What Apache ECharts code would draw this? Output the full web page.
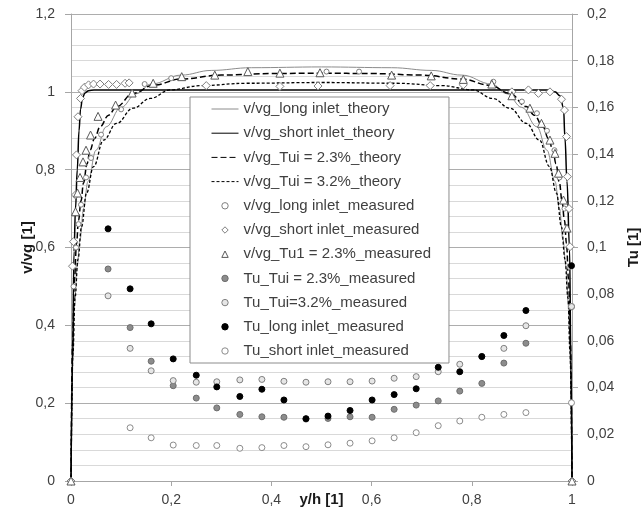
<!DOCTYPE html>
<html>
<head>
<meta charset="utf-8">
<script src="https://cdn.jsdelivr.net/npm/echarts@6/dist/echarts.min.js"></script>
<style>
  html, body { margin: 0; padding: 0; background: #fff; }
  #chart { width: 643px; height: 510px; }
</style>
</head>
<body>
<div id="chart"></div>
<script>
// theory curves, [y/h, v/vg]
var longTheory = [[0, 0], [0.003, 0.3], [0.007, 0.45], [0.012, 0.55], [0.018, 0.62], [0.025, 0.7], [0.034, 0.77],
	[0.05, 0.85], [0.07, 0.91], [0.1, 0.96], [0.13, 0.995], [0.16, 1.02], [0.22, 1.043], [0.28, 1.055], [0.36, 1.062],
	[0.5, 1.064], [0.64, 1.062], [0.72, 1.055], [0.78, 1.043], [0.84, 1.02], [0.87, 0.995], [0.9, 0.96], [0.93, 0.91],
	[0.95, 0.85], [0.966, 0.77], [0.975, 0.7], [0.982, 0.62], [0.988, 0.55], [0.993, 0.45], [0.997, 0.3], [1, 0]];
var shortTheory = [[0, 0], [0.003, 0.3], [0.006, 0.59], [0.009, 0.7], [0.0125, 0.8], [0.016, 0.9], [0.019, 0.955],
	[0.023, 0.985], [0.028, 0.997], [0.035, 1.003], [0.046, 1.005], [0.5, 1.005], [0.955, 1.005], [0.966, 1.0],
	[0.976, 0.99], [0.983, 0.96], [0.986, 0.88], [0.99, 0.77], [0.995, 0.6], [0.998, 0.3], [1, 0]];
var tui23Theory = [[0, 0], [0.003, 0.35], [0.007, 0.52], [0.011, 0.61], [0.015, 0.67], [0.02, 0.72], [0.025, 0.766],
	[0.032, 0.815], [0.038, 0.85], [0.047, 0.88], [0.058, 0.91], [0.075, 0.94], [0.091, 0.962], [0.124, 0.996],
	[0.164, 1.017], [0.22, 1.033], [0.3, 1.043], [0.4, 1.047], [0.5, 1.048], [0.6, 1.047], [0.7, 1.043], [0.78, 1.033],
	[0.836, 1.017], [0.876, 0.996], [0.909, 0.962], [0.925, 0.94], [0.942, 0.91], [0.953, 0.88], [0.962, 0.85],
	[0.968, 0.815], [0.975, 0.766], [0.98, 0.72], [0.985, 0.67], [0.989, 0.61], [0.993, 0.52], [0.997, 0.35], [1, 0]];
var tui32Theory = [[0, 0], [0.004, 0.33], [0.008, 0.47], [0.014, 0.57], [0.021, 0.653], [0.031, 0.74], [0.045, 0.808],
	[0.065, 0.876], [0.091, 0.919], [0.124, 0.958], [0.158, 0.983], [0.198, 1.005], [0.26, 1.016], [0.35, 1.022],
	[0.5, 1.024], [0.65, 1.022], [0.74, 1.016], [0.802, 1.005], [0.842, 0.983], [0.876, 0.958], [0.909, 0.919],
	[0.935, 0.876], [0.955, 0.808], [0.969, 0.74], [0.979, 0.653], [0.986, 0.57], [0.992, 0.47], [0.996, 0.33], [1, 0]];

// measured velocity, [y/h, v/vg]
var vLongMeas = [[0, 0], [0.005, 0.5], [0.01, 0.6], [0.015, 0.66], [0.02, 0.71], [0.03, 0.78], [0.04, 0.83], [0.06, 0.89],
	[0.1, 0.955], [0.147, 1.02], [0.2, 1.035], [0.51, 1.052], [0.575, 1.052], [0.843, 1.026], [0.9, 0.975], [0.93, 0.945],
	[0.95, 0.9], [0.965, 0.85], [0.975, 0.78], [0.985, 0.7], [0.995, 0.55], [1, 0]];
var vShortMeas = [[0, 0], [0.003, 0.552], [0.005, 0.615], [0.009, 0.735], [0.011, 0.838], [0.014, 0.936], [0.019, 0.983],
	[0.022, 1.003], [0.027, 1.012], [0.035, 1.018], [0.045, 1.02], [0.058, 1.02], [0.075, 1.019], [0.091, 1.019],
	[0.108, 1.022], [0.116, 1.023], [0.27, 1.016], [0.417, 1.014], [0.493, 1.015], [0.637, 1.016], [0.717, 1.016],
	[0.783, 1.018], [0.88, 1.0], [0.913, 1.005], [0.933, 0.996], [0.956, 1.0], [0.979, 0.981], [0.985, 0.953],
	[0.989, 0.885], [0.991, 0.782], [0.994, 0.7], [0.996, 0.602], [1, 0]];
var vTu23Meas = [[0, 0], [0.009, 0.692], [0.013, 0.74], [0.018, 0.78], [0.024, 0.82], [0.03, 0.85], [0.039, 0.889],
	[0.054, 0.937], [0.089, 0.966], [0.122, 0.997], [0.164, 1.022], [0.221, 1.039], [0.287, 1.043], [0.353, 1.052],
	[0.417, 1.048], [0.497, 1.049], [0.64, 1.043], [0.719, 1.041], [0.783, 1.032], [0.84, 1.02], [0.88, 0.99],
	[0.916, 0.958], [0.939, 0.919], [0.956, 0.876], [0.966, 0.842], [0.973, 0.791], [0.983, 0.722], [0.99, 0.65], [1, 0]];

// measured turbulence, one value per position in tuPos
var tuPos = [0.074, 0.118, 0.160, 0.204, 0.250, 0.291, 0.337, 0.381, 0.425, 0.469, 0.513,
	0.557, 0.601, 0.645, 0.689, 0.733, 0.776, 0.820, 0.864, 0.908, 0.999];
var tuTui23 = [0.0908, 0.0657, 0.0513, 0.0408, 0.0355, 0.0313, 0.0285, 0.0275, 0.0273, 0.0265, 0.0268,
	0.0275, 0.0273, 0.0307, 0.0325, 0.0343, 0.0385, 0.0418, 0.0505, 0.059, 0.0747];
var tuTui32 = [0.0793, 0.0568, 0.0472, 0.043, 0.0423, 0.0425, 0.0433, 0.0435, 0.0427, 0.0423, 0.0425,
	0.0425, 0.0428, 0.044, 0.0447, 0.0468, 0.05, 0.0533, 0.0568, 0.0665, 0.0747];
var tuLong = [0.108, 0.0823, 0.0673, 0.0523, 0.0453, 0.0403, 0.0362, 0.0393, 0.0347, 0.0267, 0.0278,
	0.0302, 0.0347, 0.037, 0.0395, 0.0487, 0.0468, 0.0533, 0.0623, 0.073, 0.0922];
var tuShort = [null, 0.0228, 0.0185, 0.0154, 0.0152, 0.0152, 0.014, 0.0143, 0.0152, 0.0147, 0.0155,
	0.0162, 0.0172, 0.0185, 0.0207, 0.0237, 0.0257, 0.0273, 0.0285, 0.0293, 0.0335];

function pairs(vals) {
	var out = [];
	for (var i = 0; i < vals.length; i++) {
		if (vals[i] != null) out.push([tuPos[i], vals[i]]);
	}
	return out;
}

function comma(v) {
	return String(Math.round(v * 100) / 100).replace('.', ',');
}

var chart = echarts.init(document.getElementById('chart'), null, { renderer: 'canvas' });

var font = 'Liberation Sans';
var labelStyle = { color: '#404040', fontSize: 14, fontFamily: font };
var nameStyle = { color: '#1a1a1a', fontSize: 15, fontWeight: 'bold', fontFamily: font };

function theory(name, data, color, width, type) {
	return {
		name: name, type: 'line', data: data, symbol: 'none', smooth: 0.4, smoothMonotone: 'x',
		lineStyle: { color: color, width: width, type: type },
		itemStyle: { color: color }, z: 3
	};
}

function measured(name, data, symbol, size, fill, border, yIdx) {
	return {
		name: name, type: 'line', data: data, yAxisIndex: yIdx || 0,
		symbol: symbol, symbolSize: size, showSymbol: true, showAllSymbol: true,
		lineStyle: { width: 0 },
		itemStyle: { color: fill, borderColor: border, borderWidth: 1 }, z: 4
	};
}

var series = [
	theory('v/vg_long inlet_theory', longTheory, '#8c8c8c', 1, 'solid'),
	theory('v/vg_short inlet_theory', shortTheory, '#000', 1.5, 'solid'),
	theory('v/vg_Tui = 2.3%_theory', tui23Theory, '#000', 1.5, [6, 3]),
	theory('v/vg_Tui = 3.2%_theory', tui32Theory, '#000', 1.3, [3, 2]),
	measured('v/vg_long inlet_measured', vLongMeas, 'circle', 5, '#fff', '#7f7f7f'),
	measured('v/vg_short inlet_measured', vShortMeas, 'diamond', 8, '#fff', '#7f7f7f'),
	measured('v/vg_Tu1 = 2.3%_measured', vTu23Meas, 'triangle', 8, '#fff', '#595959'),
	measured('Tu_Tui = 2.3%_measured', pairs(tuTui23), 'circle', 6, '#8c8c8c', '#6e6e6e', 1),
	measured('Tu_Tui=3.2%_measured', pairs(tuTui32), 'circle', 6, '#e6e6e6', '#808080', 1),
	measured('Tu_long inlet_measured', pairs(tuLong), 'circle', 6, '#000', '#000', 1),
	measured('Tu_short inlet_measured', pairs(tuShort), 'circle', 6, '#fff', '#8c8c8c', 1)
];

var legendData = series.map(function (s, i) {
	if (i < 4) return { name: s.name, itemStyle: { opacity: 0 }, lineStyle: { width: 1 } };
	return { name: s.name, lineStyle: { width: 0, opacity: 0 }, itemStyle: { borderWidth: 1 } };
});

var option = {
	animation: false,
	backgroundColor: '#fff',
	grid: { left: 71, right: 71, top: 14, bottom: 29, containLabel: false, outerBoundsMode: 'none' },
	legend: {
		orient: 'vertical', left: 190, top: 97,
		data: legendData,
		itemWidth: 27, itemHeight: 8, itemGap: 8.2,
		padding: [4, 18, 4, 21],
		backgroundColor: '#fff', borderColor: '#8c8c8c', borderWidth: 1,
		selectedMode: false,
		textStyle: { color: '#404040', fontSize: 15, fontFamily: font, lineHeight: 16 }
	},
	xAxis: {
		type: 'value', min: 0, max: 1, interval: 0.2,
		name: 'y/h [1]', nameLocation: 'middle', nameGap: 11, nameMoveOverlap: false, nameTextStyle: nameStyle,
		axisLine: { show: true, onZero: false, lineStyle: { color: '#a6a6a6' } },
		axisTick: { show: true, length: 5, lineStyle: { color: '#a6a6a6' } },
		axisLabel: Object.assign({ margin: 12, formatter: comma }, labelStyle),
		splitLine: { show: false }
	},
	yAxis: [
		{
			type: 'value', min: 0, max: 1.2, interval: 0.2,
			name: 'v/vg [1]', nameLocation: 'middle', nameGap: 36, nameRotate: 90, nameMoveOverlap: false,
			nameTextStyle: nameStyle,
			axisLine: { show: true, onZero: false, lineStyle: { color: '#a6a6a6' } },
			axisTick: { show: true, length: 6, lineStyle: { color: '#a6a6a6' } },
			axisLabel: Object.assign({ margin: 16, formatter: comma }, labelStyle),
			splitLine: { show: true, lineStyle: { color: '#adadad' } },
			minorTick: { show: false, splitNumber: 5 },
			minorSplitLine: { show: true, lineStyle: { color: '#d9d9d9' } }
		},
		{
			type: 'value', min: 0, max: 0.2, interval: 0.02,
			name: 'Tu [1]', nameLocation: 'middle', nameGap: 54, nameRotate: 90, nameMoveOverlap: false,
			nameTextStyle: nameStyle,
			axisLine: { show: true, onZero: false, lineStyle: { color: '#a6a6a6' } },
			axisTick: { show: true, length: 6, lineStyle: { color: '#a6a6a6' } },
			axisLabel: Object.assign({ margin: 15, formatter: comma }, labelStyle),
			splitLine: { show: false }
		}
	],
	series: series
};

chart.setOption(option);
</script>
</body>
</html>
